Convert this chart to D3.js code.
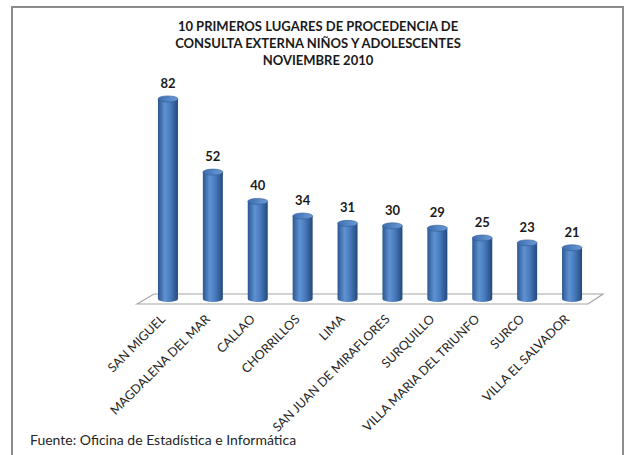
<!DOCTYPE html>
<html>
<head>
<meta charset="utf-8">
<script src="https://cdn.jsdelivr.net/npm/d3@7"></script>
<style>
  body { margin: 0; background: #fff; }
  svg { display: block; }
</style>
</head>
<body>
<div class="chart"></div>
<script>
const titleLines = ["10 PRIMEROS LUGARES DE PROCEDENCIA DE",
                    "CONSULTA EXTERNA NIÑOS Y ADOLESCENTES",
                    "NOVIEMBRE 2010"];
const lugares = ["SAN MIGUEL", "MAGDALENA DEL MAR", "CALLAO", "CHORRILLOS", "LIMA",
                 "SAN JUAN DE MIRAFLORES", "SURQUILLO", "VILLA MARIA DEL TRIUNFO",
                 "SURCO", "VILLA EL SALVADOR"];
const pacientes = [82, 52, 40, 34, 31, 30, 29, 25, 23, 21];
const fuente = "Fuente: Oficina de Estadística e Informática";

const width = 626, height = 455;
const baseY = 299;

const svg = d3.select('.chart').append('svg')
    .attr("width", width)
    .attr("height", height);

const defs = svg.append("defs");
const grad = defs.append("linearGradient").attr("id", "cyl")
    .attr("x1", "0%").attr("x2", "100%").attr("y1", "0%").attr("y2", "0%");
grad.append("stop").attr("offset", "0%").attr("stop-color", "#2b5791");
grad.append("stop").attr("offset", "35%").attr("stop-color", "#5f92d2");
grad.append("stop").attr("offset", "60%").attr("stop-color", "#4a7dc0");
grad.append("stop").attr("offset", "100%").attr("stop-color", "#24497c");

const topGrad = defs.append("linearGradient").attr("id", "cyltop")
    .attr("x1", "0%").attr("x2", "100%");
topGrad.append("stop").attr("offset", "0%").attr("stop-color", "#3d6dad");
topGrad.append("stop").attr("offset", "100%").attr("stop-color", "#6b9bd6");

// marco
svg.append("path")
    .attr("d", "M12,460 V7 H623 V460")
    .attr("fill", "none")
    .attr("stroke", "#8c8c8c")
    .attr("stroke-width", 2);

// titulo
svg.append("g").selectAll("text")
    .data(titleLines)
    .enter()
    .append("text")
    .attr("x", 318)
    .attr("y", (d, i) => 31 + i * 17)
    .attr("text-anchor", "middle")
    .attr("font-family", "Lato, sans-serif")
    .attr("font-weight", "bold")
    .attr("font-size", "13px")
    .attr("fill", "#1a1a1a")
    .text(d => d);

const xScale = d3.scaleBand()
    .domain(lugares)
    .range([145.5, 594.5]);

const yScale = d3.scaleLinear()
    .domain([0, 90])
    .range([baseY, baseY - 219.6]);

const barW = 20, ry = 3;

// piso
svg.append("path")
    .attr("d", `M137,304 L154,294 L603,294 L588,304 Z`)
    .attr("fill", "#fff")
    .attr("stroke", "#a6a6a6")
    .attr("stroke-width", 1.2);

const bars = svg.selectAll(".bar")
    .data(lugares)
    .enter()
    .append("g")
    .attr("class", "bar")
    .attr("transform", d => `translate(${xScale(d) + xScale.bandwidth() / 2},0)`);

bars.append("path")
    .attr("fill", "url(#cyl)")
    .attr("d", (d, i) => {
        const top = yScale(pacientes[i]);
        return `M${-barW / 2},${top} L${-barW / 2},${baseY}` +
               ` A${barW / 2},${ry} 0 0 0 ${barW / 2},${baseY}` +
               ` L${barW / 2},${top} Z`;
    });

bars.append("ellipse")
    .attr("cx", 0)
    .attr("cy", (d, i) => yScale(pacientes[i]))
    .attr("rx", barW / 2)
    .attr("ry", ry)
    .attr("fill", "url(#cyltop)")
    .attr("stroke", "#2d5b96")
    .attr("stroke-width", 0.6);

bars.append("text")
    .attr("x", 0)
    .attr("y", (d, i) => yScale(pacientes[i]) - 11)
    .attr("text-anchor", "middle")
    .attr("font-family", "Lato, sans-serif")
    .attr("font-weight", "bold")
    .attr("font-size", "13px")
    .attr("fill", "#1a1a1a")
    .text((d, i) => pacientes[i]);

// etiquetas del eje
svg.selectAll(".xlabel")
    .data(lugares)
    .enter()
    .append("text")
    .attr("class", "xlabel")
    .attr("text-anchor", "end")
    .attr("font-family", "Lato, sans-serif")
    .attr("font-size", "12.5px")
    .attr("fill", "#262626")
    .attr("transform", d => `translate(${xScale(d) + xScale.bandwidth() / 2 - 2},${320}) rotate(-45)`)
    .text(d => d);

svg.append("text")
    .attr("x", 30)
    .attr("y", 445)
    .attr("font-family", "Lato, sans-serif")
    .attr("font-size", "14px")
    .attr("fill", "#262626")
    .text(fuente);
</script>
</body>
</html>
